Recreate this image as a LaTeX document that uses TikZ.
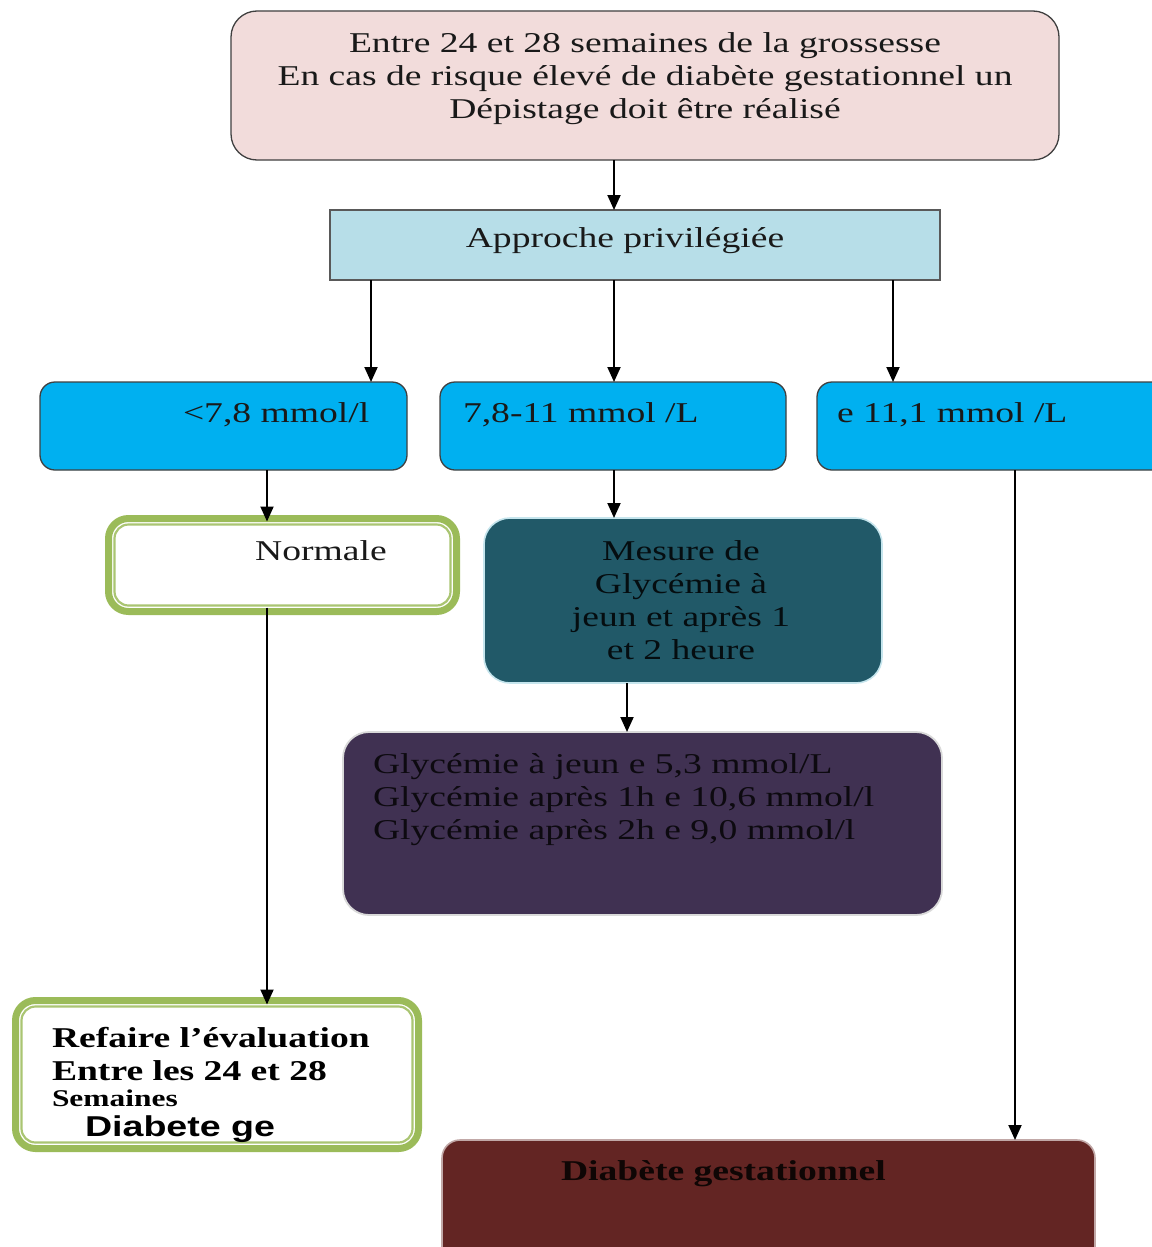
\documentclass[tikz,border=0pt]{standalone}
\usepackage{fontspec}
\setmainfont{Liberation Serif}[FakeStretch=1.31]
\newfontfamily\sansbf{Liberation Sans}[FakeStretch=1.31,BoldFont={* Bold}]
\usetikzlibrary{arrows.meta}

\definecolor{rosebox}{HTML}{F2DCDB}
\definecolor{aquabox}{HTML}{B7DEE8}
\definecolor{cyanbox}{HTML}{00B0F0}
\definecolor{olivebox}{HTML}{9BBB59}
\definecolor{tealbox}{HTML}{215968}
\definecolor{plumbox}{HTML}{403152}
\definecolor{winebox}{HTML}{632523}
\definecolor{edge}{HTML}{404040}

\begin{document}
\begin{tikzpicture}[x=1pt,y=-1pt,
  box/.style={draw=edge,line width=1.3pt,inner sep=0pt,outer sep=0pt,anchor=north west},
  greenbox/.style={box,draw=olivebox,line width=7pt,rounded corners=20pt,fill=white},
  greenline/.style={draw=olivebox!85!white,line width=2.2pt,rounded corners=14pt},
  txt/.style={inner sep=0pt,outer sep=0pt,font=\fontsize{28.7}{33}\selectfont,text=black!90},
  arr/.style={-{Triangle[length=15pt,width=13pt]},line width=1.9pt}]

\useasboundingbox[fill=white] (0,0) rectangle (1151,1247);

%%%%% boxes
\node[box,fill=rosebox,rounded corners=26pt,minimum width=828pt,minimum height=149pt] (depist) at (231,11) {};
\node[box,draw=black!65,fill=aquabox,minimum width=610pt,minimum height=70pt] (approche) at (330,210) {};

\node[box,fill=cyanbox,rounded corners=15pt,minimum width=367pt,minimum height=88pt] (bas) at (40,382) {};
\node[box,fill=cyanbox,rounded corners=15pt,minimum width=346pt,minimum height=88pt] (moyen) at (440,382) {};
\node[box,fill=cyanbox,rounded corners=15pt,minimum width=350pt,minimum height=88pt] (haut) at (817,382) {};

\node[greenbox,minimum width=348pt,minimum height=93pt] (normale) at (108.5,518.5) {};
\draw[greenline] ([shift={(6,6)}]normale.north west) rectangle ([shift={(-6,-6)}]normale.south east);
\node[box,draw=aquabox!80!white,line width=1.6pt,fill=tealbox,rounded corners=26pt,minimum width=398pt,minimum height=165pt] (mesure) at (484,518) {};
\node[box,draw=black!15,line width=1.8pt,fill=plumbox,rounded corners=26pt,minimum width=599pt,minimum height=183pt] (glyc) at (343,732) {};

\node[greenbox,minimum width=403pt,minimum height=148pt] (refaire) at (15.5,1000.5) {};
\draw[greenline] ([shift={(6,6)}]refaire.north west) rectangle ([shift={(-6,-6)}]refaire.south east);
\node[box,draw=winebox!40!white,line width=1.6pt,fill=winebox,rounded corners=18pt,minimum width=653pt,minimum height=125pt] (dg) at (442,1140) {};

%%%%% texts
\node[txt,align=center,anchor=north] (depist-t) at (645,33)
  {Entre 24 et 28 semaines de la grossesse\\En cas de risque élevé de diabète gestationnel un\\Dépistage doit être réalisé};
\node[txt,anchor=base] (approche-t) at (625,247) {Approche privilégiée};

\node[txt,anchor=base west] (bas-t) at (183,422) {<7,8 mmol/l};
\node[txt,anchor=base west] (moyen-t) at (463,422) {7,8-11 mmol /L};
\node[txt,anchor=base west] (haut-t) at (837,422) {e 11,1 mmol /L};

\node[txt,anchor=base] (normale-t) at (321,560) {Normale};
\node[txt,align=center,anchor=north,text=black!85!tealbox] (mesure-t) at (681,541)
  {Mesure de\\Glycémie à\\jeun et après 1\\et 2 heure};
\node[txt,align=left,anchor=north west,text=black!80!plumbox] (glyc-t) at (373,754)
  {Glycémie à jeun e 5,3 mmol/L\\Glycémie après 1h e 10,6 mmol/l\\Glycémie après 2h e 9,0 mmol/l};

\node[txt,align=left,anchor=north west,font=\fontsize{28.7}{33}\selectfont\bfseries,text=black] (refaire-t) at (52,1027)
  {Refaire l’évaluation\\Entre les 24 et 28\\[-7pt]{\fontsize{24}{26}\selectfont Semaines}\\[-3pt]\hspace*{33pt}{\sansbf\bfseries Diabete ge}};
\node[txt,anchor=base west,font=\fontsize{28.7}{33}\selectfont\bfseries,text=black!85!winebox] (dg-t) at (561,1180) {Diabète gestationnel};

%%%%% connectors
\draw[arr] (depist.south -| 614,0) -- (approche.north -| 614,0);
\draw[arr] (approche.south -| 371,0) -- (bas.north -| 371,0);
\draw[arr] (approche.south -| 614,0) -- (moyen.north -| 614,0);
\draw[arr] (approche.south -| 893,0) -- (haut.north -| 893,0);

\draw[arr] (bas.south -| 267,0) -- ([yshift=-3pt]normale.north -| 267,0);
\draw[arr] (moyen.south -| 614,0) -- (mesure.north -| 614,0);
\draw[arr] (mesure.south -| 627,0) -- (glyc.north -| 627,0);

\draw[arr] ([yshift=4pt]normale.south -| 267,0) -- ([yshift=-4pt]refaire.north -| 267,0);
\draw[arr] (haut.south -| 1015,0) -- (dg.north -| 1015,0);
\end{tikzpicture}
\end{document}
